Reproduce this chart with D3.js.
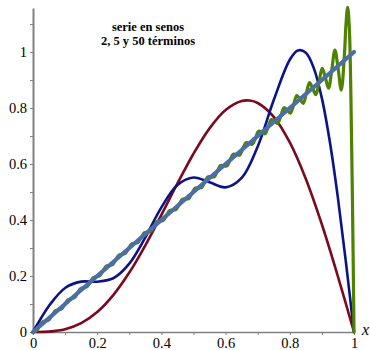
<!DOCTYPE html>
<html><head><meta charset="utf-8">
<script src="https://cdn.jsdelivr.net/npm/d3@7"></script>
<style>body{margin:0;background:#fff}svg{display:block}</style>
</head><body>
<svg id="c" width="370" height="350"></svg>
<script>
// ---- data ----
const s2X = [0,0.05,0.1,0.15,0.2,0.25,0.3,0.35,0.4,0.45,0.5,0.55,0.6,0.65,0.675,0.7,0.75,0.8,0.85,0.9,0.95,1];
const s2Y = [0,0.0012,0.0096,0.0315,0.0715,0.1319,0.2123,0.3097,0.4184,0.5304,0.6366,0.7272,0.7926,0.8248,0.8264,0.8178,0.7685,0.6769,0.5465,0.3838,0.1980,0];

const s5X = [0,0.025,0.05,0.1,0.15,0.2,0.25,0.3,0.35,0.4,0.45,0.5,0.55,0.6,0.65,0.7,0.75,0.8,0.825,0.85,0.875,0.9,0.925,0.95,0.975,1];
const s5Y = [0,0.0492,0.0940,0.1573,0.1798,0.1797,0.1919,0.2441,0.3379,0.4450,0.5249,0.5517,0.5346,0.5165,0.5502,0.6625,0.8285,0.9723,1.0053,0.9975,0.9415,0.8342,0.6773,0.4779,0.2472,0];

const s50X = [1.0000,0.9950,0.9901,0.9850,0.9802,0.9750,0.9703,0.9604,0.9505,0.9406,0.9307,0.9208,0.9109,0.9010,0.8911,0.8812,0.8713,0.8614,0.8515,0.8416,0.8317,0.8218,0.8119,0.8020,0.7921,0.7822,0.7723,0.7624,0.7525,0.7426,0.7327,0.7228,0.7129,0.7030,0.6931,0.6832,0.6733,0.6634,0.6535,0.6436,0.6337,0.6238,0.6139,0.6040,0.5941,0.5842,0.5743,0.5644,0.5545,0.5446,0.5347,0.5248,0.5149,0.5050,0.4950,0.4851,0.4752,0.4653,0.4554,0.4455,0.4356,0.4257,0.4158,0.4059,0.3960,0.3861,0.3762,0.3663,0.3564,0.3465,0.3366,0.3267,0.3168,0.3069,0.2970,0.2871,0.2772,0.2673,0.2574,0.2475,0.2376,0.2277,0.2178,0.2079,0.1980,0.1881,0.1782,0.1683,0.1584,0.1485,0.1386,0.1287,0.1188,0.1089,0.0990,0.0891,0.0792,0.0693,0.0594,0.0495,0.0396,0.0297,0.0198,0.0099,0];
const s50Y = [0,0.4870,0.8628,1.0971,1.1592,1.0983,0.9942,0.8632,0.9411,1.0068,0.9357,0.8707,0.9078,0.9412,0.8932,0.8476,0.8697,0.8902,0.8525,0.8163,0.8317,0.8446,0.8119,0.7814,0.7921,0.8010,0.7723,0.7451,0.7525,0.7586,0.7327,0.7078,0.7129,0.7170,0.6931,0.6700,0.6733,0.6759,0.6535,0.6317,0.6337,0.6351,0.6139,0.5931,0.5941,0.5945,0.5743,0.5544,0.5545,0.5542,0.5347,0.5155,0.5149,0.5139,0.4950,0.4764,0.4752,0.4738,0.4554,0.4373,0.4356,0.4338,0.4158,0.3981,0.3960,0.3938,0.3762,0.3588,0.3564,0.3539,0.3366,0.3195,0.3168,0.3140,0.2970,0.2801,0.2772,0.2742,0.2574,0.2407,0.2376,0.2345,0.2178,0.2013,0.1980,0.1947,0.1782,0.1618,0.1584,0.1550,0.1386,0.1223,0.1188,0.1153,0.0990,0.0827,0.0792,0.0757,0.0594,0.0432,0.0396,0.0360,0.0198,0.0036,0];

const lineX = [0,1];
const lineY = [0,1];

const xMajor = [0,0.2,0.4,0.6,0.8,1];
const xMajorLabels = ["0","0.2","0.4","0.6","0.8","1"];
const xMinor = [0.1,0.3,0.5,0.7,0.9];
const yMajor = [0,0.2,0.4,0.6,0.8,1];
const yMajorLabels = ["0","0.2","0.4","0.6","0.8","1"];
const yMinor = [0.1,0.3,0.5,0.7,0.9,1.1];
const titleLines = ["serie en senos","2, 5 y 50 términos"];

// ---- drawing ----
const svg = d3.select("#c");
const xS = d3.scaleLinear().domain([0,1]).range([33,354]);
const yS = d3.scaleLinear().domain([0,1.157]).range([332,8]);
const axisCol = "#808080";
const font = "Liberation Serif";

// axes
const gx = svg.append("g").attr("transform","translate(0,332)");
gx.call(d3.axisBottom(xS).tickValues(xMinor).tickSize(3).tickSizeOuter(0).tickFormat(""));
gx.call(g=>g.select(".domain").remove());
const gx2 = svg.append("g").attr("transform","translate(0,332)");
gx2.call(d3.axisBottom(xS).tickValues(xMajor).tickSize(3).tickSizeOuter(0).tickFormat((d,i)=>xMajorLabels[i]));
[gx,gx2].forEach(g=>{
  g.attr("font-family",font).attr("font-size",14.5);
  g.selectAll("line").attr("stroke",axisCol).attr("stroke-width",1);
  g.selectAll("path").attr("stroke",axisCol).attr("stroke-width",1.5);
  g.selectAll("text").attr("fill","#000").attr("y",null).attr("dy",null)
    .attr("transform","translate(0,15.5)");
});

const gy = svg.append("g").attr("transform","translate(33,0)");
gy.call(d3.axisLeft(yS).tickValues(yMinor).tickSize(3).tickSizeOuter(0).tickFormat(""));
const gy2 = svg.append("g").attr("transform","translate(33,0)");
gy2.call(d3.axisLeft(yS).tickValues(yMajor).tickSize(3).tickSizeOuter(0).tickFormat((d,i)=>yMajorLabels[i]));
gy.select(".domain").remove();
[gy,gy2].forEach(g=>{
  g.attr("font-family",font).attr("font-size",14.5);
  g.selectAll("line").attr("stroke",axisCol).attr("stroke-width",1);
  g.selectAll("path").attr("stroke",axisCol).attr("stroke-width",2);
  g.selectAll("text").attr("fill","#000").attr("x",-6).attr("dy","0.34em");
});

svg.append("text").attr("x",362).attr("y",335).attr("font-family",font).attr("font-style","italic")
  .attr("font-size",16).text("x");

// curves
const mk = (xs,ys)=>xs.map((x,i)=>[x,ys[i]]);
const line = d3.line().x(d=>xS(d[0])).y(d=>yS(d[1])).curve(d3.curveCatmullRom.alpha(0.5));
const plot = (data,col,w)=>svg.append("path").datum(data).attr("d",line).attr("fill","none")
  .attr("stroke",col).attr("stroke-width",w).attr("stroke-linejoin","round").attr("stroke-linecap","round");

plot(mk(s2X,s2Y),"#7a0a1e",2.6);
plot(mk(s5X,s5Y),"#0a1487",2.6);
plot(mk(s50X,s50Y),"#4e8200",3.2);
plot(mk(lineX,lineY),"#4b6ea6",4.2);

// title
svg.append("g").attr("font-family",font).attr("font-weight","bold").attr("font-size",12.5)
  .selectAll("text").data(titleLines).join("text")
  .attr("x",148).attr("y",(d,i)=>31+i*14).attr("text-anchor","middle").text(d=>d);
</script>
</body></html>
